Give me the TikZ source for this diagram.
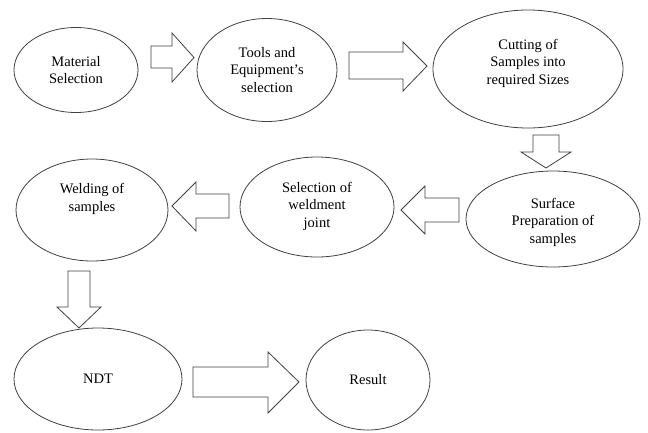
\documentclass[tikz,border=0pt]{standalone}
\usepackage{fontspec}
\setmainfont{Liberation Serif}
\usetikzlibrary{shapes.geometric}
\definecolor{lc}{HTML}{404040}
\begin{document}
\begin{tikzpicture}[x=1pt,y=-1pt,
  stage/.style={draw=lc, line width=0.8pt, ellipse, inner sep=0pt, align=center,
    font=\fontsize{14.5}{17.5}\selectfont},
  blockarrow/.style={draw=lc, line width=0.8pt, line join=miter, fill=white}]
\useasboundingbox (0,0) rectangle (648,432);
% stages
\node[stage, minimum width=124pt, minimum height=85pt] (mat) at (76,70) {Material\\Selection};
\node[stage, minimum width=140pt, minimum height=103pt] (tools) at (267,70) {Tools and\\Equipment's\\selection};
\node[stage, minimum width=190pt, minimum height=118pt] (cut) at (528,69) {};
\node at (528,63) [align=center, font=\fontsize{14.5}{17.5}\selectfont] {Cutting of\\Samples into\\required Sizes};
\node[stage, minimum width=174pt, minimum height=96pt] (surf) at (553,219) {};
\node at (553,222) [align=center, font=\fontsize{14.5}{17.5}\selectfont] {Surface\\Preparation of\\samples};
\node[stage, minimum width=154pt, minimum height=100pt] (sel) at (317,207) {};
\node at (317,206) [align=center, font=\fontsize{14.5}{17.5}\selectfont] {Selection of\\weldment\\joint};
\node[stage, minimum width=152pt, minimum height=102pt] (weld) at (92,210) {};
\node at (92,199) [align=center, font=\fontsize{14.5}{17.5}\selectfont] {Welding of\\samples};
\node[stage, minimum width=168pt, minimum height=102pt] (ndt) at (98,379) {NDT};
\node[stage, minimum width=124pt, minimum height=100pt] (res) at (368,380) {Result};
% block arrows
\draw[blockarrow] (151,46) -- (172,46) -- (172,33) -- (194,57.5) -- (172,82) -- (172,68) -- (151,68) -- cycle;
\draw[blockarrow] (349,52) -- (403,52) -- (403,42) -- (427,66) -- (403,91) -- (403,79) -- (349,79) -- cycle;
\draw[blockarrow] (533,135) -- (559,135) -- (559,152) -- (571,152) -- (546,168) -- (521,152) -- (533,152) -- cycle;
\draw[blockarrow] (459,198) -- (425,198) -- (425,186) -- (401,210) -- (425,234) -- (425,222) -- (459,222) -- cycle;
\draw[blockarrow] (229,194) -- (196,194) -- (196,182) -- (172,206) -- (196,231) -- (196,218) -- (229,218) -- cycle;
\draw[blockarrow] (68,271) -- (90,271) -- (90,307) -- (101,307) -- (79,328) -- (57,307) -- (68,307) -- cycle;
\draw[blockarrow] (193,367) -- (268,367) -- (268,352) -- (299,382) -- (268,413) -- (268,397) -- (193,397) -- cycle;
\end{tikzpicture}
\end{document}
